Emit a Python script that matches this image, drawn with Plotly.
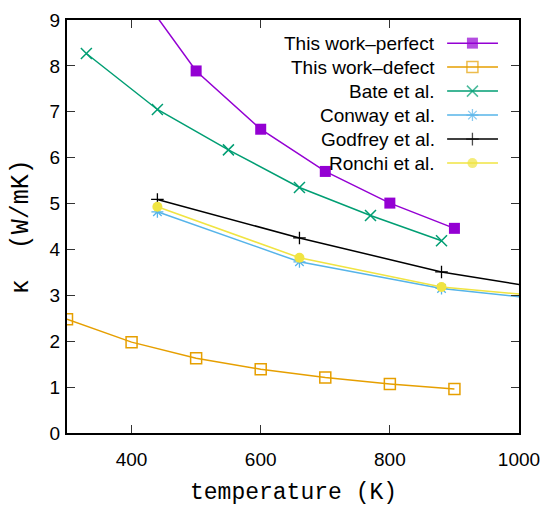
import plotly.graph_objects as go

# ---- data ----
t_perfect = [400, 500, 600, 700, 800, 900]
k_perfect = [9.83, 7.89, 6.62, 5.70, 5.01, 4.46]

t_defect = [300, 400, 500, 600, 700, 800, 900]
k_defect = [2.48, 1.98, 1.63, 1.39, 1.21, 1.07, 0.96]

t_bate = [330, 440, 550, 660, 770, 880]
k_bate = [8.27, 7.05, 6.17, 5.35, 4.74, 4.19]

t_conway = [440, 660, 880, 1100]
k_conway = [4.82, 3.73, 3.15, 2.82]

t_godfrey = [440, 660, 880, 1100]
k_godfrey = [5.09, 4.25, 3.51, 3.01]

t_ronchi = [440, 660, 880, 1100]
k_ronchi = [4.93, 3.82, 3.18, 2.90]

x_ticks = [400, 600, 800, 1000]
y_ticks = [0, 1, 2, 3, 4, 5, 6, 7, 8, 9]

SANS = "Liberation Sans, Arial, sans-serif"
MONO = "Liberation Mono, Courier New, monospace"

series = [
    dict(name="This work\u2013perfect", x=t_perfect, y=k_perfect, color="#9400d3",
         symbol="square", size=11, mlw=0),
    dict(name="This work\u2013defect", x=t_defect, y=k_defect, color="#e69f00",
         symbol="square-open", size=11, mlw=1.5),
    dict(name="Bate et al.", x=t_bate, y=k_bate, color="#009e73",
         symbol="x-thin-open", size=11, mlw=1.5),
    dict(name="Conway et al.", x=t_conway, y=k_conway, color="#56b4e9",
         symbol="asterisk-open", size=10, mlw=1.3),
    dict(name="Godfrey et al.", x=t_godfrey, y=k_godfrey, color="#000000",
         symbol="cross-thin-open", size=9, mlw=1.3),
    dict(name="Ronchi et al.", x=t_ronchi, y=k_ronchi, color="#f0e442",
         symbol="circle", size=10, mlw=0),
]

fig = go.Figure()

for s in series:
    fig.add_trace(go.Scatter(
        x=s["x"], y=s["y"], mode="lines+markers", name=s["name"],
        line=dict(color=s["color"], width=1.5),
        marker=dict(symbol=s["symbol"], size=s["size"], color=s["color"],
                    line=dict(color=s["color"], width=s["mlw"])),
        cliponaxis=True, showlegend=False,
    ))

# ---- custom gnuplot-style legend (text right, sample on the right) ----
leg_text_x = 0.819
leg_x0, leg_xm, leg_x1 = 0.841, 0.897, 0.9535
row_top = 0.944
row_step = 0.0581
for i, s in enumerate(series):
    yy = row_top - i * row_step
    fig.add_trace(go.Scatter(
        x=[leg_x0, leg_xm, leg_x1], y=[yy, yy, yy], mode="lines+markers",
        xaxis="x2", yaxis="y2", showlegend=False, hoverinfo="skip",
        line=dict(color=s["color"], width=1.5),
        marker=dict(symbol=s["symbol"], size=[0, s["size"], 0], color=s["color"],
                    line=dict(color=s["color"], width=s["mlw"])),
    ))
    fig.add_annotation(
        x=leg_text_x, y=yy, xref="x2", yref="y2", text=s["name"],
        showarrow=False, xanchor="right", yanchor="middle",
        font=dict(family=SANS, size=19, color="#000000"),
    )

# axis titles (gnuplot placement)
fig.add_annotation(x=0.5, y=-0.145, xref="paper", yref="paper",
                   text="temperature (K)", showarrow=False,
                   xanchor="center", yanchor="middle",
                   font=dict(family=MONO, size=23, color="#000000"))
fig.add_annotation(x=-0.1, y=0.5, xref="paper", yref="paper",
                   text="\u03ba  (W/mK)", showarrow=False, textangle=-90,
                   xanchor="center", yanchor="middle",
                   font=dict(family=MONO, size=25, color="#000000"))

axis_common = dict(
    showline=True, linewidth=2, linecolor="#000000", mirror="ticks",
    ticks="inside", ticklen=8, tickwidth=1.2, tickcolor="#333333",
    showgrid=False, zeroline=False, automargin=False,
    tickfont=dict(family=SANS, size=19, color="#000000"),
)

fig.update_layout(
    width=543, height=508,
    margin=dict(l=67, r=24, t=20, b=75, autoexpand=False),
    paper_bgcolor="white", plot_bgcolor="white",
    xaxis=dict(range=[300, 1000], tickvals=x_ticks, ticklabelstandoff=8,
               **axis_common),
    yaxis=dict(range=[0, 9], tickvals=y_ticks, ticklabelstandoff=1,
               **axis_common),
    xaxis2=dict(range=[0, 1], overlaying="x", visible=False, fixedrange=True),
    yaxis2=dict(range=[0, 1], overlaying="y", visible=False, fixedrange=True),
    showlegend=False,
)

fig.write_html("out.html",
               config={"displayModeBar": False},
               post_script="document.body.style.margin='0px';")
